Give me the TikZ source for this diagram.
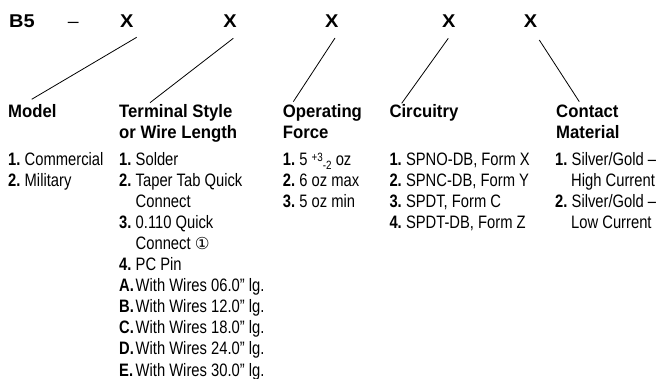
\documentclass[tikz,border=0pt]{standalone}
\usepackage{graphicx}
\usepackage{fontspec}
\setmainfont{Liberation Sans}[FakeStretch=0.82, BoldFeatures={FakeStretch=0.93}]
\newfontfamily\topfont{Liberation Sans}[FakeStretch=1.08]
\newfontfamily\djv{DejaVu Sans}
\usetikzlibrary{calc}
\newcommand\itm[2]{\makebox[16.5pt][l]{\scalebox{0.88}[1]{\bfseries #1}}#2}
\newcommand\supsub[2]{\raisebox{4.4pt}{\fontsize{12}{12}\selectfont #1}\raisebox{-4.5pt}{\fontsize{12}{12}\selectfont #2}}
\begin{document}
\begin{tikzpicture}[x=1pt,y=-1pt,
  ttl/.style={font=\topfont\bfseries\fontsize{18.5}{18.5}\selectfont, inner sep=0pt, anchor=base},
  hd/.style={font=\bfseries\fontsize{18}{18}\selectfont, inner sep=0pt, anchor=base west},
  it/.style={font=\fontsize{18}{18}\selectfont, inner sep=0pt, anchor=base west},
  conn/.style={line width=0.8pt, black}]
\useasboundingbox (0,0) rectangle (660,379);
% top row
\node[ttl] (b5) at (22,28) {B5};
\node[ttl, font=\topfont\fontsize{18}{18}\selectfont] (dash) at (73.3,28) {–};
\node[ttl] (x1) at (126.7,28) {X};
\node[ttl] (x2) at (230,28) {X};
\node[ttl] (x3) at (331.7,28) {X};
\node[ttl] (x4) at (448.7,28) {X};
\node[ttl] (x5) at (530.5,28) {X};
% headers
\node[hd] (model) at (8,118) {Model};
\node[hd] (term) at (119,118) {Terminal Style};
\node[hd] (term2) at (119,138.5) {or Wire Length};
\node[hd] (oper) at (282.7,118) {Operating};
\node[hd] (oper2) at (282.7,138.5) {Force};
\node[hd] (circ) at (389.3,118) {Circuitry};
\node[hd] (cont) at (556,118) {Contact};
\node[hd] (cont2) at (556,138.5) {Material};
% connectors
\draw[conn] ($(x1.base)+(10,9.3)$) -- ($(model.base west)+(23.7,-18.7)$);
\draw[conn] ($(x2.base)+(3.3,10.3)$) -- ($(term.base west)+(31,-15.3)$);
\draw[conn] ($(x3.base)+(3.3,10)$) -- ($(oper.base west)+(10.6,-16.3)$);
\draw[conn] ($(x4.base)+(-0.4,10.3)$) -- ($(circ.base west)+(12.4,-14.7)$);
\draw[conn] ($(x5.base)+(8.8,12)$) -- ($(cont.base west)+(23.3,-16.3)$);
% Model
\node[it] (m1) at (8,165.5) {\itm{1.}{Commercial}};
\node[it] (m2) at (8,186.55) {\itm{2.}{Military}};
% Terminal
\node[it] (t1) at (119,165.5) {\itm{1.}{Solder}};
\node[it] (t2) at (119,186.55) {\itm{2.}{Taper Tab Quick}};
\node[it] (t3) at (135.5,207.6) {Connect};
\node[it] (t4) at (119,228.65) {\itm{3.}{0.110 Quick}};
\node[it] (t5) at (135.5,249.7) {Connect {\djv\fontsize{16.5}{16.5}\selectfont ①}};
\node[it] (t6) at (119,270.75) {\itm{4.}{PC Pin}};
\node[it] (t7) at (119,291.8) {\itm{A.}{With Wires 06.0\symbol{34} lg.}};
\node[it] (t8) at (119,312.85) {\itm{B.}{With Wires 12.0\symbol{34} lg.}};
\node[it] (t9) at (119,333.9) {\itm{C.}{With Wires 18.0\symbol{34} lg.}};
\node[it] (t10) at (119,354.95) {\itm{D.}{With Wires 24.0\symbol{34} lg.}};
\node[it] (t11) at (119,376) {\itm{E.}{With Wires 30.0\symbol{34} lg.}};
% Operating force
\node[it] (o1) at (282.7,165.5) {\itm{1.}{5 \supsub{+3}{-2} oz}};
\node[it] (o2) at (282.7,186.55) {\itm{2.}{6 oz max}};
\node[it] (o3) at (282.7,207.6) {\itm{3.}{5 oz min}};
% Circuitry
\node[it] (c1) at (389.3,165.5) {\itm{1.}{SPNO-DB, Form X}};
\node[it] (c2) at (389.3,186.55) {\itm{2.}{SPNC-DB, Form Y}};
\node[it] (c3) at (389.3,207.6) {\itm{3.}{SPDT, Form C}};
\node[it] (c4) at (389.3,228.65) {\itm{4.}{SPDT-DB, Form Z}};
% Contact material
\node[it] (k1) at (555,165.5) {\itm{1.}{Silver/Gold –}};
\node[it] (k2) at (571,186.55) {High Current};
\node[it] (k3) at (555,207.6) {\itm{2.}{Silver/Gold –}};
\node[it] (k4) at (571,228.65) {Low Current};
\end{tikzpicture}
\end{document}
